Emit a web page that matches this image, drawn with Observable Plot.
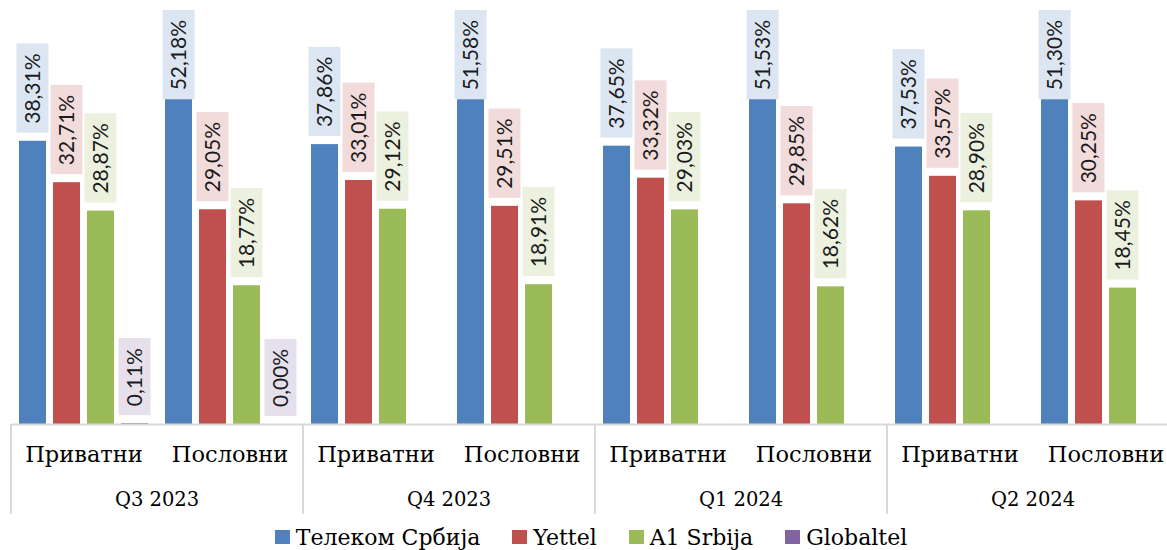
<!DOCTYPE html>
<html>
<head>
<meta charset="utf-8">
<script src="https://cdn.jsdelivr.net/npm/d3@7"></script>
<script src="https://cdn.jsdelivr.net/npm/@observablehq/plot@0.6"></script>
<style>
  html, body { margin: 0; padding: 0; background: #fff; overflow: hidden; }
  #wrap { position: relative; width: 1167px; height: 550px; overflow: hidden; }
  #chart svg { max-width: none !important; }
  #legend { position: absolute; left: 0; top: 523px; width: 1182px; height: 28px;
    display: flex; justify-content: center; align-items: center;
    font-family: "DejaVu Serif", serif; font-size: 22px; color: #000; }
  .item { display: flex; align-items: center; margin: 0 16px; }
  .sw { width: 15px; height: 14px; margin-right: 6px; }
</style>
</head>
<body>
<div id="wrap"><div id="chart"></div><div id="legend"></div></div>
<script>
// ---- data ----
const quarters = ["Q3 2023", "Q4 2023", "Q1 2024", "Q2 2024"];
const segments = ["Приватни", "Пословни"];
const operators = ["Телеком Србија", "Yettel", "A1 Srbija", "Globaltel"];
const colors = ["#4F81BD", "#C0504D", "#9BBB59", "#8064A2"];
const labelFills = ["#DCE6F2", "#F2DCDB", "#EBF1DE", "#E6E0EC"];
// order: Q3 Прив, Q3 Посл, Q4 Прив, Q4 Посл, Q1 Прив, Q1 Посл, Q2 Прив, Q2 Посл
const telekom   = [38.31, 52.18, 37.86, 51.58, 37.65, 51.53, 37.53, 51.30];
const yettel    = [32.71, 29.05, 33.01, 29.51, 33.32, 29.85, 33.57, 30.25];
const a1        = [28.87, 18.77, 29.12, 18.91, 29.03, 18.62, 28.90, 18.45];
const globaltel = [0.11, 0.00, null, null, null, null, null, null];

// ---- layout constants ----
const W = 1181, H = 520, mTop = 10, mBottom = 96, mLeft = 8;
const yMax = 56;
const k = (H - mTop - mBottom) / yMax; // px per unit
const labelFont = '"Lato", sans-serif';
const labelSize = 21;
const pad = 9.5, gap = 8;

const ctx = document.createElement("canvas").getContext("2d");
ctx.font = `${labelSize}px ${labelFont}`;
const fmt = v => v.toFixed(2).replace(".", ",") + "%";

const series = [telekom, yettel, a1, globaltel];
const groups = [];
const data = [];
quarters.forEach((q, qi) => segments.forEach((s, si) => {
  const g = q + " · " + s;
  groups.push(g);
  const i = qi * 2 + si;
  series.forEach((arr, oi) => {
    const v = arr[i];
    if (v == null) return;
    const len = ctx.measureText(fmt(v)).width + 2 * pad;
    let lo = v + gap / k;
    lo = Math.min(lo, yMax - len / k);
    data.push({group: g, quarter: q, segment: s, operator: operators[oi], value: v,
      boxLo: lo, boxHi: lo + len / k, textY: lo + pad / k, light: labelFills[oi]});
  });
}));

const plot = Plot.plot({
  width: W, height: H,
  marginLeft: mLeft, marginRight: 0, marginTop: mTop, marginBottom: mBottom,
  fx: {domain: groups, padding: 0, axis: null},
  x: {domain: operators, paddingInner: 0.2, paddingOuter: 0.2, axis: null},
  y: {domain: [0, yMax], axis: null},
  color: {domain: operators, range: colors},
  style: {background: "transparent", maxWidth: "none"},
  marks: [
    Plot.barY(data, {fx: "group", x: "operator", y: "value", fill: "operator"}),
    Plot.barY(data, {fx: "group", x: "operator", y1: "boxLo", y2: "boxHi",
      fill: {value: d => d.light, scale: null}, insetLeft: -2.5, insetRight: -2.5}),
    Plot.text(data, {fx: "group", x: "operator", y: "textY", text: d => fmt(d.value),
      rotate: -90, textAnchor: "start", fill: "#1a1a1a",
      fontSize: labelSize, fontFamily: labelFont})
  ]
});
document.getElementById("chart").appendChild(plot);

// ---- category axis (two-level) drawn from Plot's scales ----
const fx = plot.scale("fx");
const ys = plot.scale("y");
const bw = fx.bandwidth;
const y0 = ys.apply(0);
const svg = d3.select(plot);
const ax = svg.append("g").attr("font-family", '"DejaVu Serif", serif').attr("fill", "#000");
ax.append("line").attr("x1", fx.apply(groups[0])).attr("x2", W)
  .attr("y1", y0 + 0.5).attr("y2", y0 + 0.5).attr("stroke", "#D9D9D9").attr("stroke-width", 2);
quarters.forEach(q => {
  const gx = fx.apply(q + " · " + segments[0]);
  ax.append("line").attr("x1", gx).attr("x2", gx).attr("y1", y0).attr("y2", y0 + 90)
    .attr("stroke", "#D9D9D9").attr("stroke-width", 2);
  ax.append("text").attr("x", fx.apply(q + " · " + segments[1])).attr("y", y0 + 82)
    .attr("text-anchor", "middle").attr("font-size", 19.5).text(q);
  segments.forEach(s => {
    ax.append("text").attr("x", fx.apply(q + " · " + s) + bw / 2).attr("y", y0 + 38)
      .attr("text-anchor", "middle").attr("font-size", 22.5).text(s);
  });
});

// ---- legend ----
const legend = document.getElementById("legend");
operators.forEach((o, i) => {
  const it = document.createElement("div");
  it.className = "item";
  it.innerHTML = `<div class="sw" style="background:${colors[i]}"></div><span>${o}</span>`;
  legend.appendChild(it);
});
</script>
</body>
</html>
